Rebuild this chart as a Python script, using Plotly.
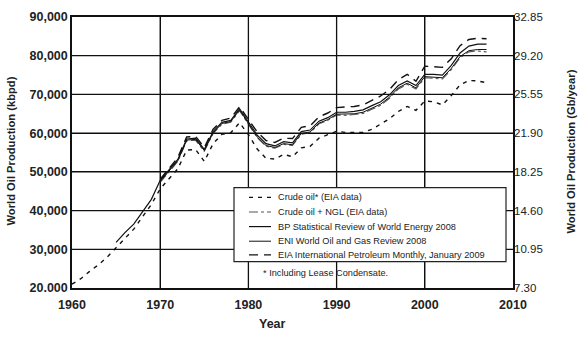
import plotly.graph_objects as go

years_crude = list(range(1960, 2008))
crude_oil = [21000, 22400, 24300, 26000, 28000, 30300, 32800, 35200, 38300, 41600,
             45600, 48200, 50800, 55600, 55800, 52700, 57300, 59700, 60100, 62700,
             59600, 55900, 53500, 53300, 54500, 53900, 56200, 56600, 58700, 59600,
             60500, 60200, 60200, 60200, 61000, 62400, 63700, 65600, 66900, 65900,
             68300, 68100, 67300, 69700, 72500, 73600, 73500, 73000]

years_bp = list(range(1965, 2008))
bp = [31800, 34300, 36500, 39800, 42900,
      47800, 50400, 53200, 58500, 58700, 55800, 60400, 62800, 63300, 66300,
      62900, 59500, 57300, 56700, 57800, 57500, 60400, 60800, 63100, 64000,
      65400, 65400, 65600, 66000, 67100, 68100, 69900, 72300, 73500, 72300,
      75200, 75200, 75000, 77500, 80700, 82500, 83000, 83000]

years_other = list(range(1970, 2008))
eni = [47500, 50100, 52900, 58200, 58400, 55500, 60100, 62500, 63000, 66000,
       62500, 59000, 56800, 56300, 57300, 57000, 59900, 60300, 62600, 63500,
       64900, 64900, 65000, 65400, 66500, 67500, 69300, 71700, 72900, 71700,
       74600, 74500, 74300, 76700, 79800, 81300, 81600, 81600]
crude_ngl = [47300, 49900, 52700, 58000, 58200, 55300, 59900, 62300, 62800, 65800,
             62300, 58800, 56600, 56100, 57100, 56800, 59700, 60100, 62400, 63300,
             64700, 64600, 64800, 65100, 66200, 67200, 69000, 71400, 72600, 71400,
             74300, 74200, 74000, 76400, 79500, 81000, 81200, 81000]
eia_ipm = [48100, 50800, 53700, 59000, 59200, 56300, 61000, 63300, 63900, 66800,
           63600, 60300, 58100, 57600, 58700, 58600, 61500, 61900, 64200, 65200,
           66600, 66700, 66900, 67300, 68500, 69600, 71300, 73800, 75200, 73400,
           77300, 77200, 77000, 79200, 82600, 84200, 84500, 84400]

series_names = ["Crude oil* (EIA data)", "Crude oil + NGL (EIA data)",
                "BP Statistical Review of World Energy 2008", "ENI World Oil and Gas Review 2008",
                "EIA International Petroleum Monthly, January 2009"]
note_text = "* Including Lease Condensate."
x_title = "Year"
left_title = "World Oil Production (kbpd)"
right_title = "World Oil Production (Gb/year)"

left_ticks = [20000, 30000, 40000, 50000, 60000, 70000, 80000, 90000]
left_ticktext = ["20.000", "30,000", "40,000", "50,000", "60,000", "70,000", "80,000", "90,000"]
right_ticks = [7.30, 10.95, 14.60, 18.25, 21.90, 25.55, 29.20, 32.85]
x_ticks = [1960, 1970, 1980, 1990, 2000, 2010]

FONT = "Liberation Sans, Arial, sans-serif"
INK = "#222"
styles = [dict(color="#111", width=1.4, dash="4px,5px"),
          dict(color="#555", width=1.1, dash="dashdot"),
          dict(color="#111", width=1.2),
          dict(color="#111", width=1.0),
          dict(color="#111", width=1.4, dash="9px,6px")]
series_x = [years_crude, years_other, years_bp, years_other, years_other]
series_y = [crude_oil, crude_ngl, bp, eni, eia_ipm]

x_range = [x_ticks[0], x_ticks[-1]]
y_range = [left_ticks[0], left_ticks[-1]]

fig = go.Figure()
for xs, ys, nm, st in zip(series_x, series_y, series_names, styles):
    fig.add_trace(go.Scatter(x=xs, y=ys, mode="lines", name=nm, line=st, showlegend=False))
# invisible trace that anchors the right-hand (Gb/year) axis
fig.add_trace(go.Scatter(x=years_bp, y=[v * 365 / 1e6 for v in bp], yaxis="y2", mode="lines",
                         line=dict(width=0), opacity=0, showlegend=False, hoverinfo="skip"))

W, H = 586, 338
L, R, T, B = 72, 73, 10, 50
pw, ph = W - L - R, H - T - B
def px(x):
    return (x - L) / pw
def py(y):
    return (H - B - y) / ph

shapes = []
# grid lines at the tick positions (paper fractions of the axis ranges)
for xv in x_ticks[1:-1]:
    f = (xv - x_range[0]) / (x_range[1] - x_range[0])
    shapes.append(dict(type="line", xref="paper", yref="paper", x0=f, x1=f, y0=0, y1=1,
                       line=dict(color="#111", width=1.3), layer="above"))
for yv in left_ticks[1:-1]:
    f = (yv - y_range[0]) / (y_range[1] - y_range[0])
    shapes.append(dict(type="line", xref="paper", yref="paper", x0=0, x1=1, y0=f, y1=f,
                       line=dict(color="#111", width=1.3), layer="above"))

# Manual legend (box, sample lines, labels)
shapes.append(dict(type="rect", xref="paper", yref="paper", x0=px(234), x1=px(506), y0=py(261), y1=py(185),
                   line=dict(color=INK, width=1.2), fillcolor="white", layer="above"))
annotations = []
item_y = [195, 210, 225, 240, 254]
for yy, nm, st in zip(item_y, series_names, styles):
    d = st.get("dash", "solid")
    shapes.append(dict(type="line", xref="paper", yref="paper", x0=px(249), x1=px(271), y0=py(yy), y1=py(yy),
                       line=dict(color=st["color"], width=st["width"], dash=d), layer="above"))
    annotations.append(dict(text=nm, x=px(276), y=py(yy), xref="paper", yref="paper",
                            xanchor="left", yanchor="middle", showarrow=False,
                            font=dict(size=9.2, family=FONT, color=INK)))
annotations.append(dict(text=note_text, x=px(261), y=py(273), xref="paper", yref="paper",
                        xanchor="left", yanchor="middle", showarrow=False,
                        font=dict(size=9.2, family=FONT, color=INK)))
# axis titles
annotations.append(dict(text="<b>%s</b>" % x_title, x=px(272), y=py(325), xref="paper", yref="paper",
                        xanchor="center", yanchor="middle", showarrow=False,
                        font=dict(size=12.5, family=FONT, color=INK)))
annotations.append(dict(text="<b>%s</b>" % left_title, x=px(11), y=py(148), xref="paper", yref="paper",
                        xanchor="center", yanchor="middle", showarrow=False, textangle=-90,
                        font=dict(size=11.2, family=FONT, color=INK)))
annotations.append(dict(text="<b>%s</b>" % right_title, x=px(571), y=py(148), xref="paper", yref="paper",
                        xanchor="center", yanchor="middle", showarrow=False, textangle=-90,
                        font=dict(size=11.2, family=FONT, color=INK)))

fig.update_layout(
    width=W, height=H,
    margin=dict(l=L, r=R, t=T, b=B),
    paper_bgcolor="white", plot_bgcolor="white",
    font=dict(family=FONT, color=INK),
    xaxis=dict(range=x_range, tickvals=x_ticks, showgrid=True, gridcolor="black", gridwidth=1.3,
               showline=True, linecolor="#111", linewidth=1.5, mirror=True, zeroline=False,
               tickfont=dict(size=12.5, family=FONT, color=INK, weight="bold"),
               ticks="", ticklabelstandoff=4),
    yaxis=dict(range=y_range, tickvals=left_ticks, ticktext=left_ticktext,
               showgrid=True, gridcolor="black", gridwidth=1.3,
               showline=True, linecolor="#111", linewidth=1.5, mirror=True, zeroline=False,
               tickfont=dict(size=12.5, family=FONT, color=INK, weight="bold"), ticks=""),
    yaxis2=dict(range=[7.30, 32.85], tickvals=right_ticks, tickformat=".2f",
                overlaying="y", side="right", showgrid=False, zeroline=False, showline=False,
                tickfont=dict(size=11.5, family=FONT, color=INK), ticks=""),
    shapes=shapes,
    annotations=annotations,
)

fig.write_html("out.html")
